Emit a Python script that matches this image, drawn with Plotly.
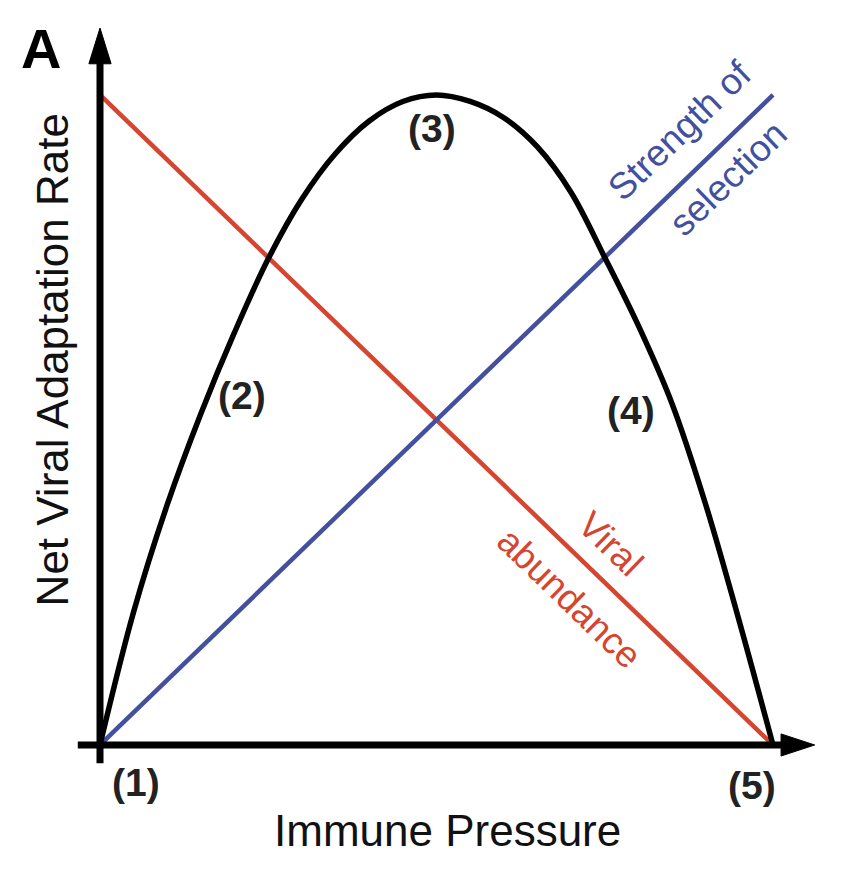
import plotly.graph_objects as go

# Net viral adaptation rate curve (both axes scaled 0..1)
pressure = [0.0, 0.05, 0.10, 0.15, 0.20, 0.25, 0.30, 0.35, 0.40, 0.45, 0.50,
            0.55, 0.60, 0.65, 0.70, 0.75, 0.80, 0.85, 0.90, 0.95, 1.0]
adaptation = [0.0, 0.205, 0.37, 0.51, 0.635, 0.748, 0.84, 0.91, 0.96, 0.99, 1.0,
              0.99, 0.965, 0.92, 0.85, 0.75, 0.645, 0.525, 0.37, 0.19, 0.0]

# straight lines
abundance_x = [0.0, 1.0]
abundance_y = [1.0, 0.0]
selection_x = [0.0, 1.0]
selection_y = [0.0, 1.0]

# stage labels
stage_labels = ['(1)', '(2)', '(3)', '(4)', '(5)']
stage_x = [0.053, 0.211, 0.493, 0.789, 0.969]
stage_y = [-0.057, 0.537, 0.948, 0.514, -0.062]

RED = '#d5452f'
BLUE = '#43509e'
FONT = 'Liberation Sans, Arial, sans-serif'

fig = go.Figure()

fig.add_trace(go.Scatter(x=abundance_x, y=abundance_y, mode='lines',
                         line=dict(color=RED, width=4.5), hoverinfo='skip'))
fig.add_trace(go.Scatter(x=selection_x, y=selection_y, mode='lines',
                         line=dict(color=BLUE, width=4.5), hoverinfo='skip'))
fig.add_trace(go.Scatter(x=pressure, y=adaptation, mode='lines',
                         line=dict(color='black', width=5.5, shape='spline', smoothing=1.0),
                         hoverinfo='skip'))

# axes drawn by hand with arrow heads
shapes = [
    dict(type='line', x0=0, x1=0, y0=-0.028, y1=1.05, xref='x', yref='y',
         line=dict(color='black', width=7)),
    dict(type='line', x0=-0.033, x1=1.014, y0=0, y1=0, xref='x', yref='y',
         line=dict(color='black', width=7)),
    dict(type='path', path='M -0.0165 1.048 L 0.0165 1.048 L 0 1.103 Z',
         xref='x', yref='y', fillcolor='black', line=dict(color='black', width=1)),
    dict(type='path', path='M 1.012 -0.017 L 1.012 0.017 L 1.062 0 Z',
         xref='x', yref='y', fillcolor='black', line=dict(color='black', width=1)),
]

annotations = []
for lab, sx, sy in zip(stage_labels, stage_x, stage_y):
    annotations.append(dict(x=sx, y=sy, text='<b>%s</b>' % lab, showarrow=False,
                            font=dict(family=FONT, size=39, color='#222222')))

annotations += [
    dict(x=-0.088, y=1.072, text='<b>A</b>', showarrow=False,
         font=dict(family=FONT, size=56, color='black')),
    dict(x=0.516, y=-0.131, text='Immune Pressure', showarrow=False,
         font=dict(family=FONT, size=44, color='#111111')),
    dict(x=-0.071, y=0.592, text='Net Viral Adaptation Rate', showarrow=False,
         textangle=-90, font=dict(family=FONT, size=44, color='#111111')),
    dict(x=0.862, y=0.945, text='Strength of', showarrow=False, textangle=-44,
         font=dict(family=FONT, size=37, color=BLUE)),
    dict(x=0.933, y=0.872, text='selection', showarrow=False, textangle=-44,
         font=dict(family=FONT, size=37, color=BLUE)),
    dict(x=0.758, y=0.310, text='Viral', showarrow=False, textangle=44,
         font=dict(family=FONT, size=37, color=RED)),
    dict(x=0.698, y=0.226, text='abundance', showarrow=False, textangle=44,
         font=dict(family=FONT, size=37, color=RED)),
]

# the page body adds an 8px offset, so the ranges are shifted to compensate
fig.update_layout(
    width=852, height=874,
    margin=dict(l=0, r=0, t=0, b=0),
    paper_bgcolor='white', plot_bgcolor='white',
    showlegend=False,
    xaxis=dict(range=[-0.1367, 1.1293], visible=False, fixedrange=True),
    yaxis=dict(range=[-0.2108, 1.1338], visible=False, fixedrange=True),
    shapes=shapes,
    annotations=annotations,
)

fig.write_html('out.html')
